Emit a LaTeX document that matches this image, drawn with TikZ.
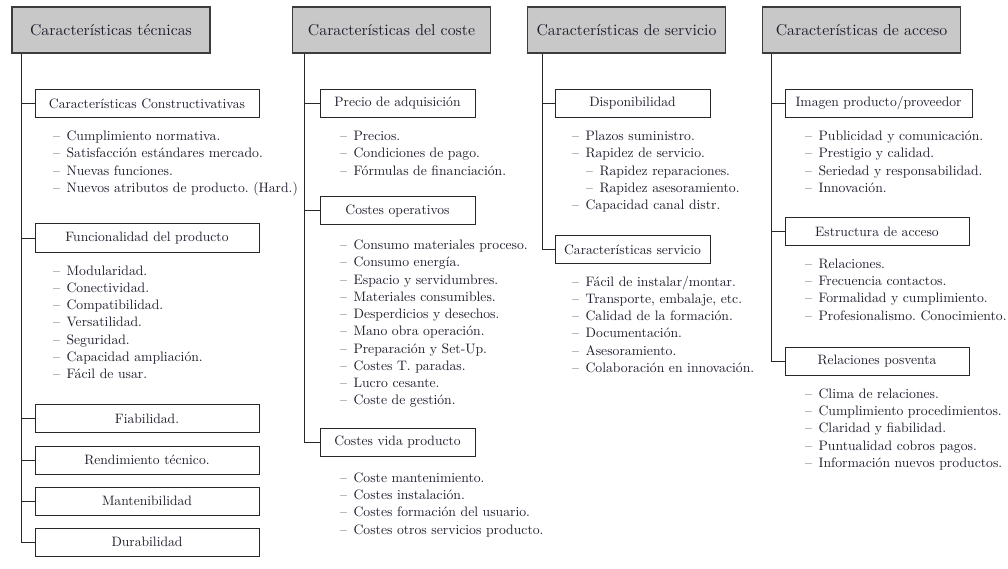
\documentclass[tikz,border=0pt]{standalone}
\usepackage{fontspec}
\setmainfont{lmroman10-regular.otf}
\usetikzlibrary{calc}
\definecolor{hdfill}{RGB}{200,200,200}
\definecolor{hdline}{RGB}{60,60,60}
\definecolor{bxline}{RGB}{40,40,40}
\definecolor{trline}{RGB}{40,40,40}
\definecolor{txt}{RGB}{30,30,45}
\newcommand\hdfont{\fontsize{15.8}{19}\selectfont}
\newcommand\bxfont{\fontsize{13.6}{16}\selectfont}
\newcommand\itfont{\fontsize{13.7}{17.25}\selectfont}
\newcommand\itm{\strut–\hspace{6.5pt}}
\newcommand\itmm{\strut\hspace{14pt}–\hspace{6.5pt}}
\frenchspacing
\begin{document}
\begin{tikzpicture}[x=1pt,y=-1pt,
  hdr/.style={draw=hdline, fill=hdfill, line width=1.2pt, minimum width=198pt, minimum height=46pt, inner sep=0pt, font=\hdfont, text=txt},
  sub/.style={draw=bxline, fill=white, line width=1pt, minimum height=28pt, inner sep=0pt, font=\bxfont, text=txt},
  lst/.style={anchor=north west, inner sep=0pt, align=left, font=\itfont, text=txt},
  trunk/.style={draw=trline, line width=1pt}]
\useasboundingbox (0,0) rectangle (1008,569);
% headers
\node[hdr] (h1) at (111,30) {Características técnicas};
\node[hdr] (h2) at (391.5,30) {Características del coste};
\node[hdr] (h3) at (626.5,30) {Características de servicio};
\node[hdr] (h4) at (861.5,30) {Características de acceso};
% column 1
\node[sub, minimum width=224pt] (b11) at (147,103.5) {Características Constructivativas};
\node[sub, minimum width=224pt] (b12) at (147,238) {Funcionalidad del producto};
\node[sub, minimum width=224pt] (b13) at (147,418.5) {Fiabilidad.};
\node[sub, minimum width=224pt] (b14) at (147,460) {Rendimiento técnico.};
\node[sub, minimum width=224pt] (b15) at (147,501) {Mantenibilidad};
\node[sub, minimum width=224pt] (b16) at (147,542) {Durabilidad};
\node[lst] (l11) at (53,128.4) {\itm Cumplimiento normativa.\\\itm Satisfacción estándares mercado.\\\itm Nuevas funciones.\\\itm Nuevos atributos de producto. (Hard.)};
\node[lst] (l12) at (53,262.9) {\itm Modularidad.\\\itm Conectividad.\\\itm Compatibilidad.\\\itm Versatilidad.\\\itm Seguridad.\\\itm Capacidad ampliación.\\\itm Fácil de usar.};
% column 2
\node[sub, minimum width=155pt] (b21) at (397.5,103.5) {Precio de adquisición};
\node[sub, minimum width=155pt] (b22) at (397.5,211) {Costes operativos};
\node[sub, minimum width=155pt] (b23) at (397.5,442) {Costes vida producto};
\node[lst] (l21) at (340,128.4) {\itm Precios.\\\itm Condiciones de pago.\\\itm Fórmulas de financiación.};
\node[lst] (l22) at (340,237.4) {\itm Consumo materiales proceso.\\\itm Consumo energía.\\\itm Espacio y servidumbres.\\\itm Materiales consumibles.\\\itm Desperdicios y desechos.\\\itm Mano obra operación.\\\itm Preparación y Set-Up.\\\itm Costes T. paradas.\\\itm Lucro cesante.\\\itm Coste de gestión.};
\node[lst] (l23) at (340,470.2) {\itm Coste mantenimiento.\\\itm Costes instalación.\\\itm Costes formación del usuario.\\\itm Costes otros servicios producto.};
% column 3
\node[sub, minimum width=155pt] (b31) at (632.5,103.5) {Disponibilidad};
\node[sub, minimum width=155pt] (b32) at (632.5,249.5) {Características servicio};
\node[lst] (l31) at (572,128.4) {\itm Plazos suministro.\\\itm Rapidez de servicio.\\\itmm Rapidez reparaciones.\\\itmm Rapidez asesoramiento.\\\itm Capacidad canal distr.};
\node[lst] (l32) at (572,273.9) {\itm Fácil de instalar/montar.\\\itm Transporte, embalaje, etc.\\\itm Calidad de la formación.\\\itm Documentación.\\\itm Asesoramiento.\\\itm Colaboración en innovación.};
% column 4
\node[sub, minimum width=187pt] (b41) at (878.5,103.5) {Imagen producto/proveedor};
\node[sub, minimum width=184pt] (b42) at (877,231.5) {Estructura de acceso};
\node[sub, minimum width=184pt] (b43) at (877,361) {Relaciones posventa};
\node[lst] (l41) at (805,128.4) {\itm Publicidad y comunicación.\\\itm Prestigio y calidad.\\\itm Seriedad y responsabilidad.\\\itm Innovación.};
\node[lst] (l42) at (805,256.2) {\itm Relaciones.\\\itm Frecuencia contactos.\\\itm Formalidad y cumplimiento.\\\itm Profesionalismo. Conocimiento.};
\node[lst] (l43) at (805,386.2) {\itm Clima de relaciones.\\\itm Cumplimiento procedimientos.\\\itm Claridad y fiabilidad.\\\itm Puntualidad cobros pagos.\\\itm Información nuevos productos.};
% trunks
\coordinate (t1) at ($(h1.south west)+(10,0)$);
\coordinate (t2) at ($(h2.south west)+(13,0)$);
\coordinate (t3) at ($(h3.south west)+(16,0)$);
\coordinate (t4) at ($(h4.south west)+(10,0)$);
\draw[trunk] (t1) |- (b16.west);
\foreach \b in {b11,b12,b13,b14,b15} \draw[trunk] (\b.west) -- (\b.west -| t1);
\draw[trunk] (t2) |- (b23.west);
\foreach \b in {b21,b22} \draw[trunk] (\b.west) -- (\b.west -| t2);
\draw[trunk] (t3) |- (b32.west);
\draw[trunk] (b31.west) -- (b31.west -| t3);
\draw[trunk] (t4) |- (b43.west);
\foreach \b in {b41,b42} \draw[trunk] (\b.west) -- (\b.west -| t4);
\end{tikzpicture}
\end{document}
